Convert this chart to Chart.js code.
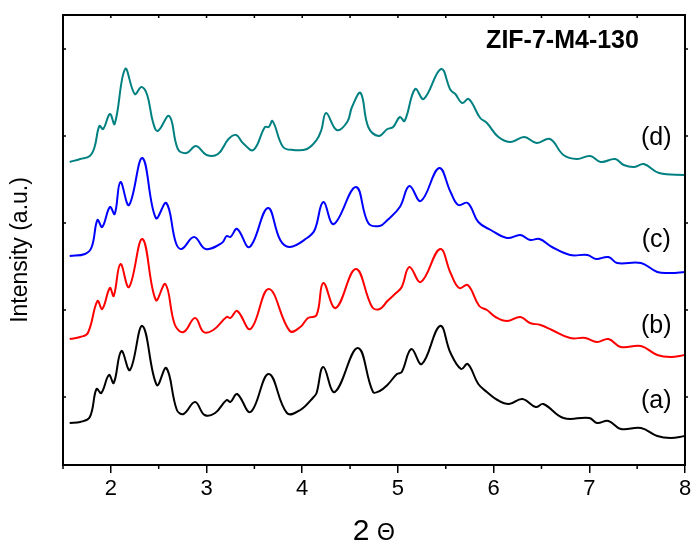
<!DOCTYPE html>
<html>
<head>
<meta charset="utf-8">
<script src="https://cdn.jsdelivr.net/npm/chart.js@4.4.1/dist/chart.umd.min.js"></script>
<style>
  html, body { margin: 0; padding: 0; background: #fff; }
  #wrap { width: 694px; height: 545px; }
</style>
</head>
<body>
<div id="wrap"><canvas id="xrd" width="694" height="545"></canvas></div>
<script>
// XRD patterns, stacked with an offset (intensity in a.u.)
const thetaA = [1.57,1.68,1.78,1.85,1.90,1.98,2.03,2.11,2.20,2.33,2.48,2.58,2.69,2.76,2.88,2.98,3.09,3.21,3.25,3.32,3.46,3.65,3.84,3.98,4.12,4.15,4.22,4.34,4.58,4.74,4.81,4.89,4.99,5.04,5.14,5.25,5.44,5.55,5.66,5.73,5.84,5.93,6.04,6.16,6.30,6.44,6.52,6.73,7.00,7.08,7.20,7.33,7.54,7.71,7.85,8.00];
const intensityA = [42,43,48,76,72,90,82,114,95,139,80,97,55,51,63,50,52,65,63,71,53,91,52,55,68,72,98,73,117,73,74,80,91,93,116,101,139,112,96,101,81,73,65,61,66,58,61,47,47,42,44,36,37,29,27,29];

const thetaB = [1.57,1.68,1.76,1.86,1.91,1.99,2.03,2.10,2.19,2.33,2.47,2.57,2.67,2.76,2.88,2.97,3.07,3.21,3.25,3.32,3.46,3.65,3.87,3.98,4.06,4.15,4.22,4.35,4.56,4.73,4.81,4.89,4.98,5.04,5.12,5.24,5.44,5.55,5.64,5.73,5.85,5.93,6.02,6.14,6.28,6.38,6.49,6.61,6.80,6.96,7.08,7.20,7.33,7.54,7.71,7.85,8.00];
const intensityB = [126,128,132,164,156,177,169,201,178,226,165,181,140,133,147,133,135,148,147,154,136,176,134,138,147,150,182,157,196,158,156,164,172,178,198,183,216,192,177,180,159,155,148,144,148,142,140,135,127,127,123,126,118,119,110,108,110];

const thetaC = [1.57,1.73,1.80,1.86,1.91,1.99,2.04,2.10,2.19,2.33,2.47,2.58,2.68,2.74,2.87,2.99,3.16,3.21,3.25,3.32,3.45,3.64,3.77,3.87,4.05,4.13,4.22,4.33,4.56,4.69,4.81,4.89,5.02,5.12,5.24,5.43,5.55,5.63,5.73,5.84,5.97,6.14,6.28,6.38,6.48,6.61,6.80,6.98,7.07,7.20,7.29,7.54,7.71,7.85,8.00];
const intensityC = [209,211,218,245,238,258,251,283,260,307,247,262,222,216,228,216,222,229,228,236,218,257,225,218,227,235,263,241,278,242,239,245,258,279,264,297,273,260,262,243,235,227,230,225,226,218,210,210,206,208,202,202,193,192,193];

const thetaD = [1.57,1.68,1.78,1.83,1.88,1.92,1.99,2.04,2.15,2.25,2.32,2.38,2.44,2.49,2.61,2.70,2.79,2.89,3.00,3.12,3.23,3.31,3.38,3.49,3.61,3.65,3.69,3.80,3.91,4.05,4.15,4.20,4.25,4.36,4.47,4.52,4.61,4.69,4.80,4.89,4.95,5.02,5.07,5.18,5.27,5.45,5.55,5.60,5.67,5.74,5.86,5.93,6.05,6.18,6.32,6.45,6.59,6.73,6.87,7.01,7.12,7.27,7.36,7.47,7.57,7.73,8.00];
const intensityD = [303,306,309,318,339,336,351,341,396,371,378,370,343,334,349,316,312,319,310,311,326,330,322,315,338,338,344,318,315,316,325,335,352,335,343,358,372,338,329,336,338,348,344,376,366,396,375,371,362,366,347,342,328,323,328,322,326,310,306,309,303,306,300,298,301,292,290];

const sampleLabels = ['(a)', '(b)', '(c)', '(d)'];
const sampleColors = ['#000000', '#ff0000', '#0000ff', '#008080'];
const yTickValues = [68, 155, 242, 329, 416];
const chartTitle = 'ZIF-7-M4-130';
const yAxisName = 'Intensity (a.u.)';

const FONT = '"Liberation Sans", Arial, sans-serif';

function pairs(xs, ys) {
  return xs.map((x, i) => ({ x: x, y: ys[i] }));
}

const series = [
  pairs(thetaA, intensityA),
  pairs(thetaB, intensityB),
  pairs(thetaC, intensityC),
  pairs(thetaD, intensityD)
];

// frame, inward ticks, sample labels, title and axis names
const decorations = {
  id: 'decorations',
  afterDraw(chart) {
    const { ctx, chartArea: a, scales: { x, y } } = chart;
    ctx.save();
    ctx.strokeStyle = '#000';
    ctx.lineWidth = 2;
    ctx.strokeRect(a.left, a.top, a.right - a.left, a.bottom - a.top);

    ctx.lineWidth = 1.5;
    ctx.beginPath();
    y.ticks.forEach(t => {
      const py = y.getPixelForValue(t.value);
      ctx.moveTo(a.left, py); ctx.lineTo(a.left + 3, py);
      ctx.moveTo(a.right, py); ctx.lineTo(a.right + 3, py);
    });
    x.ticks.forEach(t => {
      const px = x.getPixelForValue(t.value);
      ctx.moveTo(px, a.top); ctx.lineTo(px, a.top + 3);
      if (!Number.isInteger(t.value)) {
        ctx.moveTo(px, a.bottom); ctx.lineTo(px, a.bottom + 4);
      }
    });
    ctx.stroke();

    ctx.fillStyle = '#000';
    ctx.textAlign = 'center';
    ctx.textBaseline = 'middle';
    ctx.font = '25px ' + FONT;
    const labelY = [64, 139, 225, 327];
    sampleLabels.forEach((s, i) => {
      ctx.fillText(s, x.getPixelForValue(7.7), y.getPixelForValue(labelY[i]));
    });

    ctx.font = 'bold 25px ' + FONT;
    ctx.fillText(chartTitle, x.getPixelForValue(6.72), y.getPixelForValue(424));

    // y axis name, a bit below the middle of the axis as in the original
    ctx.save();
    ctx.translate(21, 250);
    ctx.rotate(-Math.PI / 2);
    ctx.font = '23px ' + FONT;
    ctx.fillText(yAxisName, 0, 0);
    ctx.restore();

    ctx.textBaseline = 'alphabetic';
    ctx.font = '30px ' + FONT;
    ctx.fillText('2', 361, 540);
    ctx.font = '23px ' + FONT;
    ctx.fillText('Θ', 386, 540);
    ctx.restore();
  }
};

new Chart(document.getElementById('xrd'), {
  type: 'line',
  data: {
    datasets: series.map((d, i) => ({
      label: sampleLabels[i],
      data: d,
      borderColor: sampleColors[i],
      borderWidth: 2,
      pointRadius: 0,
      fill: false,
      tension: 0.4
    }))
  },
  options: {
    responsive: false,
    animation: false,
    layout: { padding: { left: 0, right: 9, top: 15, bottom: 0 } },
    plugins: {
      legend: { display: false },
      tooltip: { enabled: false }
    },
    scales: {
      x: {
        type: 'linear',
        min: 1.5,
        max: 8,
        afterFit(scale) {
          scale.height = 80;
          scale.paddingLeft = 0;
          scale.paddingRight = 0;
        },
        ticks: {
          stepSize: 0.5,
          autoSkip: false,
          maxRotation: 0,
          padding: 5,
          color: '#000',
          font: { family: FONT, size: 22, lineHeight: 1 },
          callback: v => Number.isInteger(v) ? String(v) : ''
        },
        grid: {
          drawOnChartArea: false,
          tickLength: 8,
          lineWidth: 1.5,
          color: ctx => (ctx.tick && Number.isInteger(ctx.tick.value)) ? '#000' : 'rgba(0,0,0,0)'
        },
        border: { color: '#000', width: 2 },
        title: { display: false }
      },
      y: {
        min: 0,
        max: 450,
        afterFit(scale) { scale.width = 63; },
        afterBuildTicks(scale) { scale.ticks = yTickValues.map(v => ({ value: v })); },
        ticks: { display: false },
        grid: { display: false },
        border: { color: '#000', width: 2 },
        title: { display: false }
      }
    }
  },
  plugins: [decorations]
});
</script>
</body>
</html>
